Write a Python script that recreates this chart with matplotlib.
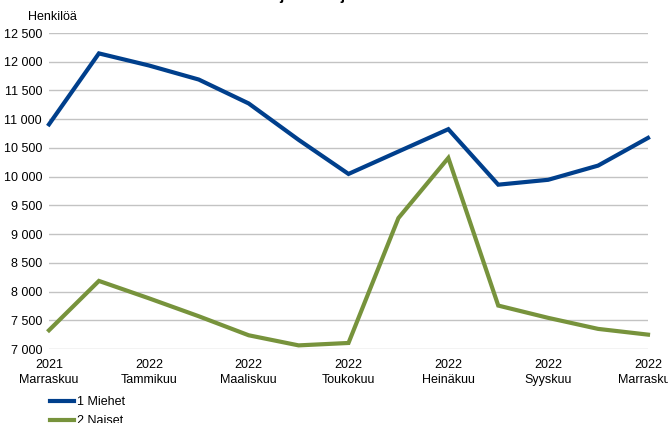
import matplotlib.pyplot as plt

plt.rcParams['font.family'] = ['Liberation Sans', 'DejaVu Sans']

# data
months = ["2021\nMarraskuu", "", "2022\nTammikuu", "", "2022\nMaaliskuu", "",
          "2022\nToukokuu", "", "2022\nHeinäkuu", "", "2022\nSyyskuu", "",
          "2022\nMarraskuu"]
miehet = [10910, 12145, 11935, 11690, 11274, 10641, 10047, 10437, 10826,
          9860, 9945, 10192, 10674]
naiset = [7326, 8185, 7883, 7570, 7239, 7063, 7105, 9279, 10326,
          7756, 7542, 7350, 7250]
yticks = [7000, 7500, 8000, 8500, 9000, 9500, 10000, 10500, 11000, 11500,
          12000, 12500]


def main():
    fig = plt.figure(figsize=(6.68, 4.23), dpi=100)
    ax = fig.add_axes([49 / 668, 1 - 349 / 423, 599 / 668, 316 / 423])

    x = list(range(len(months)))
    ax.plot(x, miehet, color="#003f8c", lw=3.0, label="1 Miehet",
            clip_on=False, zorder=3, solid_joinstyle="miter")
    ax.plot(x, naiset, color="#77933c", lw=3.0, label="2 Naiset",
            clip_on=False, zorder=3, solid_joinstyle="miter")

    ax.set_xlim(0, len(months) - 1)
    ax.set_ylim(7000, 12500)
    ax.set_yticks(yticks)
    ax.set_yticklabels([f"{v:,}".replace(",", " ") for v in yticks])
    ax.set_xticks(x)
    ax.set_xticklabels(months, linespacing=1.35)
    ax.tick_params(length=0, labelsize=9, colors="black")
    ax.tick_params(axis="y", pad=5)
    ax.tick_params(axis="x", pad=7)
    ax.grid(axis="y", color="#c3c3c3", lw=1.0)
    ax.set_axisbelow(True)
    for s in ax.spines.values():
        s.set_visible(False)

    fig.text(28 / 668, 1 - 17 / 423, "Henkilöä", fontsize=9, va="center")
    fig.text(322 / 668, 1 + 4 / 423, "Pohjois-Pohjanmaa", fontsize=11,
             fontweight="bold", ha="center", va="center")

    h, l = ax.get_legend_handles_labels()
    fig.legend(h, l, loc="upper left", bbox_to_anchor=(50 / 668, 1 - 396 / 423),
               frameon=False, fontsize=9, handlelength=1.9, handletextpad=0.3,
               labelspacing=0.55, borderaxespad=0, borderpad=0)

    fig.savefig("out.png", dpi=100, facecolor="white")


if __name__ == "__main__":
    main()
